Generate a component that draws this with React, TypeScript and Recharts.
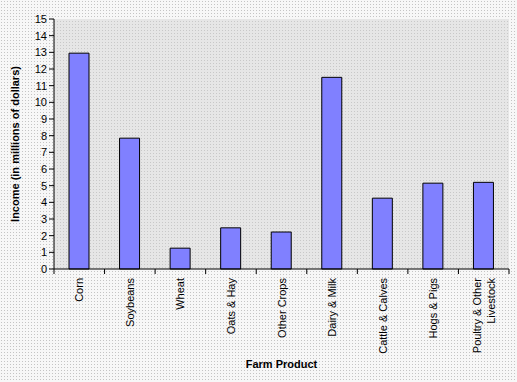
import { BarChart, Bar, XAxis, YAxis, CartesianGrid, Label } from "recharts";

const products = [
  "Corn",
  "Soybeans",
  "Wheat",
  "Oats & Hay",
  "Other Crops",
  "Dairy & Milk",
  "Cattle & Calves",
  "Hogs & Pigs",
  "Poultry & Other|Livestock",
];
const income = [12.95, 7.85, 1.25, 2.47, 2.22, 11.5, 4.25, 5.15, 5.2];
const yTicks = [0, 1, 2, 3, 4, 5, 6, 7, 8, 9, 10, 11, 12, 13, 14, 15];

const data = products.map((name, i) => ({ name, income: income[i] }));

const W = 517;
const H = 382;
const PLOT_LEFT = 54;
const PLOT_RIGHT = 509;
const HALF_BAND = (PLOT_RIGHT - PLOT_LEFT) / products.length / 2;

const font = "'Liberation Sans', Arial, sans-serif";

function ProductTick(props: any) {
  const { x, y, payload, index } = props;
  const lines = String(payload.value).split("|");
  const lh = 14;
  const first = -((lines.length - 1) * lh) / 2 + 4;
  return (
    <g>
      <line x1={x - HALF_BAND} y1={y - 8} x2={x - HALF_BAND} y2={y - 3} stroke="#000" />
      {index === products.length - 1 && (
        <line x1={x + HALF_BAND} y1={y - 8} x2={x + HALF_BAND} y2={y - 3} stroke="#000" />
      )}
      <text
        transform={`translate(${x},${y + 1}) rotate(-90)`}
        textAnchor="end"
        fontSize={11}
        fontFamily={font}
        fill="#000"
      >
        {lines.map((l, i) => (
          <tspan key={i} x={0} y={first + i * lh}>
            {l}
          </tspan>
        ))}
      </text>
    </g>
  );
}

export default function App() {
  return (
    <div
      style={{
        width: W,
        height: H,
        position: "absolute",
        left: 0,
        top: 0,
        background:
          "radial-gradient(circle, #c4c4c4 0.7px, transparent 0.8px) 0 0/3px 3px, #f7f7f7",
      }}
    >
      <BarChart
        width={W}
        height={H}
        data={data}
        margin={{ top: 19, right: W - PLOT_RIGHT, left: 24, bottom: 33 }}
        barCategoryGap="30%"
      >
        <defs>
          <pattern id="dots" width="3" height="3" patternUnits="userSpaceOnUse">
            <rect width="3" height="3" fill="#e6e6e6" />
            <rect width="1" height="1" fill="#c8c8c8" />
          </pattern>
        </defs>
        <CartesianGrid
          horizontal={false}
          vertical={false}
          fill="url(#dots)"
          fillOpacity={1}
        />
        <XAxis
          xAxisId="top"
          orientation="top"
          dataKey="name"
          height={0}
          tick={false}
          tickLine={false}
          axisLine={{ stroke: "#808080" }}
        />
        <YAxis
          yAxisId="right"
          orientation="right"
          width={0}
          tick={false}
          tickLine={false}
          axisLine={{ stroke: "#808080" }}
          domain={[0, 15]}
        />
        <XAxis
          dataKey="name"
          height={80}
          interval={0}
          tickLine={false}
          axisLine={{ stroke: "#000" }}
          tick={<ProductTick />}
          tickMargin={2}
        >
          <Label
            value="Farm Product"
            position="insideBottom"
            offset={-19}
            fontSize={11}
            fontWeight="bold"
            fontFamily={font}
            fill="#000"
          />
        </XAxis>
        <YAxis
          width={30}
          domain={[0, 15]}
          ticks={yTicks}
          interval={0}
          tickSize={5}
          tickLine={{ stroke: "#000" }}
          axisLine={{ stroke: "#000" }}
          tick={{ fontSize: 11, fontFamily: font, fill: "#000" }}
          tickMargin={2}
        >
          <Label
            value="Income (in millions of dollars)"
            angle={-90}
            position="insideLeft"
            offset={-9}
            style={{ textAnchor: "middle" }}
            fontSize={11}
            fontWeight="bold"
            fontFamily={font}
            fill="#000"
          />
        </YAxis>
        <Bar
          dataKey="income"
          fill="#8080ff"
          stroke="#000"
          strokeWidth={1}
          barSize={20}
          isAnimationActive={false}
        />
      </BarChart>
    </div>
  );
}
